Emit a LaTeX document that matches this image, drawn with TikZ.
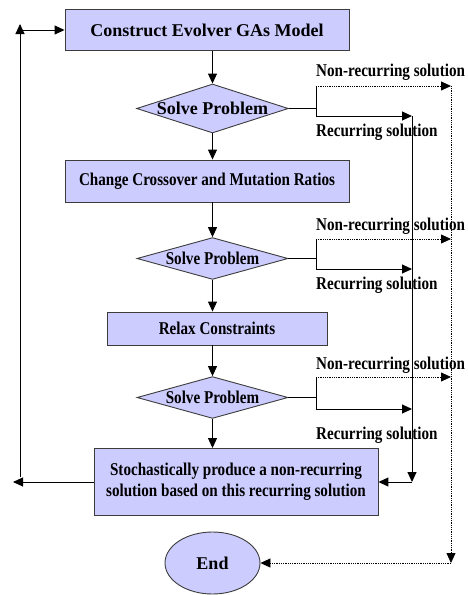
\documentclass[tikz,border=0pt]{standalone}
\usepackage{fontspec}
\setmainfont{Liberation Serif}
\newfontfamily\narrowfont[FakeStretch=0.84]{Liberation Serif}
\usepackage{tikz}
\usetikzlibrary{arrows.meta}
\usetikzlibrary{positioning,shapes.geometric}
\definecolor{boxfill}{RGB}{204,204,255}
\definecolor{boxline}{RGB}{60,60,60}
\tikzset{
    process/.style={
        draw=boxline,
        rectangle,
        fill=boxfill,
        inner sep=0pt,
        line width=0.9pt,
        font=\bfseries\fontsize{18}{21}\selectfont
    },
    decision/.style={
        draw=boxline,
        diamond,
        aspect=3.2,
        fill=boxfill,
        inner sep=0pt,
        minimum width=151pt,
        line width=0.9pt,
        font=\bfseries\fontsize{18}{21}\selectfont
    },
    flow/.style={
        draw=black,
        line width=1pt,
        -{Triangle[length=10pt, width=9pt]}
    }
}

\begin{document}
\begin{tikzpicture}[x=1pt,y=-1pt]
  \useasboundingbox (0,0) rectangle (468,595);
  % Extra styles for the side branches
  \tikzset{
    plain/.style={
      draw=black,
      line width=1pt
    },
    dotflow/.style={
      draw=black,
      densely dotted,
      line width=0.8pt,
      -{Triangle[length=10pt, width=9pt]}
    },
    branch/.style={
      anchor=west,
      inner sep=0pt,
      font=\narrowfont\bfseries\fontsize{18}{21}\selectfont
    }
  }

  % Main column
  \node[process, minimum width=284pt, minimum height=41pt] (model) at (207,30) {Construct Evolver GAs Model};
  \node[decision, minimum height=49pt] (solve1) at (212.5,108.5) {Solve Problem};
  \node[process, minimum width=284pt, minimum height=42pt, font=\narrowfont\bfseries\fontsize{18}{21}\selectfont] (ratios) at (207,181) {Change Crossover and Mutation Ratios};
  \node[decision, minimum height=41pt, font=\narrowfont\bfseries\fontsize{18}{21}\selectfont] (solve2) at (212.5,258.5) {Solve Problem};
  \node[process, minimum width=220pt, minimum height=33pt, font=\narrowfont\bfseries\fontsize{18}{21}\selectfont] (relax) at (217,328.5) {Relax Constraints};
  \node[decision, minimum height=41pt, font=\narrowfont\bfseries\fontsize{18}{21}\selectfont] (solve3) at (212.5,397.5) {Solve Problem};
  \node[process, minimum width=284pt, minimum height=67pt, align=center, font=\narrowfont\bfseries\fontsize{18}{21}\selectfont] (produce) at (236,482) {Stochastically produce a non-recurring\\solution based on this recurring solution};
  \node[process, ellipse, minimum width=95pt, minimum height=62pt] (end) at (212.5,563) {End};

  \draw[flow] (model.south -| solve1.north) -- (solve1.north);
  \draw[flow] (solve1.south) -- (solve1.south |- ratios.north);
  \draw[flow] (ratios.south -| solve2.north) -- (solve2.north);
  \draw[flow] (solve2.south) -- (solve2.south |- relax.north);
  \draw[flow] (relax.south -| solve3.north) -- (solve3.north);
  \draw[flow] (solve3.south) -- (solve3.south |- produce.north);

  % Rails on the right
  \coordinate (ntop) at (451,86);
  \coordinate (nbot) at (451,563);
  \coordinate (rtop) at (412,116);
  \coordinate (rbot) at (412,482);

  % Branches of each Solve Problem
  \foreach \k/\ny/\ry/\ly/\lr in {1/86/116/72/132, 2/239/269/226/285, 3/377/409/365/435} {
    \coordinate (j\k) at (316,\ry);
    \coordinate (n\k) at (316,\ny);
    \coordinate (r\k) at (316,\ry);
    \draw[plain] (solve\k.east) -- (solve\k.east -| j\k);
    \draw[plain] (n\k) -- (r\k);
    \draw[dotflow] (n\k) -- (n\k -| ntop);
    \draw[flow] (r\k) -- (r\k -| rtop);
    \node[branch] (nl\k) at (316,\ly) {Non-recurring solution};
    \node[branch] (rl\k) at (316,\lr) {Recurring solution};
  }

  \draw[dotflow] (ntop) -- (nbot);
  \draw[dotflow] (nbot) -- (end.east);
  \draw[flow] (rtop) -- (rbot);
  \draw[flow] (rbot) -- (produce.east);

  % Loop back on the left
  \coordinate (lout) at (13,482);
  \coordinate (lbot) at (20,477);
  \coordinate (ltop) at (20,24);
  \coordinate (lmid) at (20,30);
  \draw[flow] (produce.west) -- (lout);
  \draw[flow] (lbot) -- (ltop);
  \draw[flow] (lmid) -- (model.west);
\end{tikzpicture}
\end{document}
